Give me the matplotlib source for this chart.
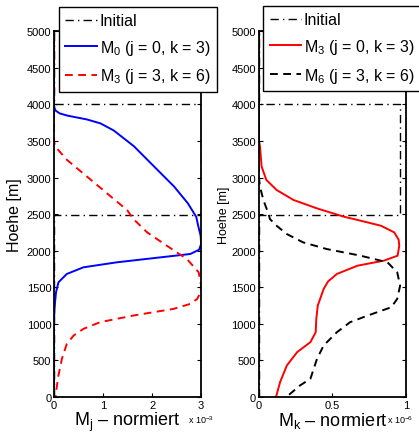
import matplotlib
matplotlib.use('Agg')
import matplotlib.pyplot as plt

plt.rcParams['font.family'] = ['Liberation Sans', 'DejaVu Sans']
plt.rcParams['mathtext.fontset'] = 'custom'
plt.rcParams['mathtext.rm'] = 'Liberation Sans'
plt.rcParams['mathtext.it'] = 'Liberation Sans'

# Anfangsverteilung (Rechteck)
initial_h = [0, 2490, 2490, 4010, 4010, 5000]
initial_left = [0, 0, 3.0, 3.0, 0, 0]      # x 10^-3
initial_right = [0, 0, 0.96, 0.96, 0, 0]   # x 10^-6

# linkes Bild: M0 (x 10^-3)
m0_h = [5000, 4000, 3960, 3915, 3875, 3845, 3820, 3794, 3739, 3642, 3427, 3151, 2876, 2647, 2463,
        2341, 2205, 2091, 2014, 1955, 1909, 1841, 1773, 1682, 1568, 1432, 1250, 1068, 0]
m0 = [0, 0, 0.005, 0.03, 0.12, 0.28, 0.47, 0.67, 0.95, 1.22, 1.63, 2.04, 2.45, 2.73, 2.9,
      2.94, 2.99, 3.0, 2.96, 2.78, 2.17, 1.28, 0.6, 0.26, 0.09, 0.04, 0.014, 0, 0]

# linkes Bild: M3 (x 10^-3)
m3l_h = [5000, 3500, 3427, 3243, 3014, 2784, 2555, 2432, 2250, 2068, 1886, 1705, 1523, 1432,
         1341, 1273, 1205, 1114, 1023, 932, 841, 727, 523, 295, 68, 0]
m3l = [0, 0, 0.02, 0.26, 0.67, 1.08, 1.49, 1.62, 1.9, 2.3, 2.71, 2.95, 3.0, 2.99,
       2.92, 2.78, 2.44, 1.62, 0.94, 0.6, 0.40, 0.26, 0.16, 0.09, 0.04, 0.03]

# rechtes Bild: M3 (x 10^-6)
m3r_h = [5000, 3500, 3427, 3151, 2968, 2830, 2693, 2578, 2463, 2432, 2341, 2250, 2150, 2068,
         1932, 1864, 1795, 1682, 1580, 1477, 1250, 1068, 886, 750, 614, 432, 205, 0]
m3r = [0, 0, 0.007, 0.018, 0.05, 0.12, 0.235, 0.395, 0.58, 0.646, 0.83, 0.92, 0.95, 0.954,
       0.943, 0.85, 0.67, 0.53, 0.47, 0.44, 0.40, 0.39, 0.386, 0.35, 0.26, 0.19, 0.144, 0.116]

# rechtes Bild: M6 (x 10^-6)
m6_h = [5000, 3000, 2876, 2693, 2509, 2432, 2341, 2227, 2114, 2023, 1932, 1841, 1705, 1523,
        1341, 1227, 1114, 1023, 886, 705, 523, 250, 159, 23, 0]
m6 = [0, 0, 0.007, 0.03, 0.064, 0.075, 0.12, 0.19, 0.30, 0.46, 0.69, 0.874, 0.94, 0.96,
      0.94, 0.9, 0.74, 0.62, 0.53, 0.44, 0.395, 0.35, 0.28, 0.2, 0.19]

fig = plt.figure(figsize=(4.19, 4.35), dpi=100)
ax1 = fig.add_axes([0.129, 0.085, 0.351, 0.841])
ax2 = fig.add_axes([0.618, 0.085, 0.351, 0.841])

dashdot = (0, (6, 3, 1, 3))
dashed = (0, (4, 2.8))

l1, = ax1.plot(initial_left, initial_h, color='black', ls=dashdot, lw=1.0, label='Initial')
l2, = ax1.plot(m0, m0_h, '-', color='blue', lw=1.4, label='M$_0$ (j = 0, k = 3)')
l3, = ax1.plot(m3l, m3l_h, color='red', ls=dashed, lw=1.4, label='M$_3$ (j = 3, k = 6)')

r1, = ax2.plot(initial_right, initial_h, color='black', ls=dashdot, lw=1.0, label='Initial')
r2, = ax2.plot(m3r, m3r_h, '-', color='red', lw=1.4, label='M$_3$ (j = 0, k = 3)')
r3, = ax2.plot(m6, m6_h, color='black', ls=dashed, lw=1.4, label='M$_6$ (j = 3, k = 6)')

for ax in (ax1, ax2):
    ax.set_ylim(0, 5000)
    ax.set_yticks(range(0, 5001, 500))
    ax.tick_params(direction='in', top=True, right=True, labelsize=8, length=3, width=0.8, pad=2)
    for s in ax.spines.values():
        s.set_linewidth(1.3)

ax1.set_xlim(0, 3)
ax1.set_xticks([0, 1, 2, 3])
ax1.set_xticklabels(['0', '1', '2', '3'])
ax2.set_xlim(0, 1)
ax2.set_xticks([0, 0.5, 1])
ax2.set_xticklabels(['0', '0.5', '1'])

ax1.set_ylabel('Hoehe [m]', fontsize=11.5, labelpad=3)
ax2.set_ylabel('Hoehe [m]', fontsize=9, labelpad=1)
ax1.set_xlabel('M$_j$ – normiert', fontsize=13, labelpad=0)
ax2.set_xlabel('M$_k$ – normiert', fontsize=13, labelpad=0)

ax1.text(0.91, -0.045, 'x 10$^{-3}$', transform=ax1.transAxes, fontsize=6.5, va='top', ha='left')
ax2.text(0.87, -0.045, 'x 10$^{-6}$', transform=ax2.transAxes, fontsize=6.5, va='top', ha='left')

leg_kw = dict(fontsize=11.5, fancybox=False, edgecolor='black', framealpha=1,
              handlelength=2.0, handletextpad=0.15, labelspacing=0.6, borderpad=0.4,
              borderaxespad=0)
lg1 = fig.legend(handles=[l1, l2, l3], loc='upper left', bbox_to_anchor=(0.141, 0.982), **leg_kw)
lg2 = fig.legend(handles=[r1, r2, r3], loc='upper left', bbox_to_anchor=(0.628, 0.984), **leg_kw)
for lg in (lg1, lg2):
    lg.get_frame().set_linewidth(1.0)

fig.savefig('out.png', dpi=100)
